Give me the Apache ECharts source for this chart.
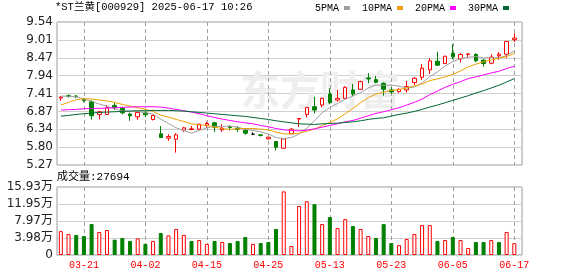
<!DOCTYPE html>
<html><head><meta charset="utf-8">
<script src="https://cdn.jsdelivr.net/npm/echarts/dist/echarts.min.js"></script>
<style>html,body{margin:0;padding:0;background:#fff}#c{width:578px;height:276px}</style>
</head><body><div id="c"></div>
<script>
const titleText = '*ST兰黄[000929] 2025-06-17 10:26';
const watermarkText = '东方财富';
const lastVolume = 27694;
const dates = ['03-18','03-19','03-20','03-21','03-24','03-25','03-26','03-27','03-28','03-31','04-01','04-02','04-03','04-07','04-08','04-09','04-10','04-11','04-14','04-15','04-16','04-17','04-18','04-21','04-22','04-23','04-24','04-25','04-28','04-29','04-30','05-06','05-07','05-08','05-09','05-13','05-14','05-15','05-16','05-19','05-20','05-21','05-22','05-23','05-26','05-27','05-28','05-29','05-30','06-03','06-04','06-05','06-06','06-09','06-10','06-11','06-12','06-13','06-16','06-17'];
const tickLabels = ['03-21','04-02','04-15','04-25','05-13','05-23','06-05','06-17'];
const priceTicks = ['5.27','5.80','6.34','6.87','7.41','7.94','8.47','9.01','9.54'];
const volTicks = ['0','3.98万','7.97万','11.95万','15.93万'];
const opens  = [7.27,7.34,7.33,7.24,7.16,6.78,6.78,7.05,6.96,6.79,6.71,6.83,6.63,6.20,6.07,6.04,6.31,6.33,6.34,6.46,6.53,6.32,6.42,6.37,6.31,6.19,6.17,6.05,5.97,5.77,6.20,6.64,6.78,7.01,7.06,7.39,7.21,7.26,7.51,7.53,7.87,7.82,7.71,7.51,7.46,7.51,7.73,7.89,8.11,8.37,8.30,8.61,8.44,8.57,8.57,8.40,8.31,8.53,8.58,9.01];
const closes = [7.30,7.32,7.31,7.20,6.74,6.86,6.98,6.98,6.83,6.74,6.84,6.77,6.75,6.09,6.12,6.17,6.38,6.35,6.49,6.51,6.40,6.37,6.39,6.34,6.22,6.19,6.15,6.10,5.80,6.05,6.34,6.66,6.99,6.91,7.26,7.13,7.26,7.59,7.39,7.76,7.84,7.74,7.53,7.45,7.53,7.61,7.86,8.16,8.38,8.25,8.52,8.50,8.57,8.59,8.38,8.30,8.49,8.58,8.96,9.06];
const highs  = [7.31,7.38,7.36,7.27,7.21,6.89,7.06,7.13,7.01,6.83,6.86,6.88,6.77,6.43,6.19,6.22,6.41,6.43,6.50,6.56,6.56,6.49,6.46,6.43,6.37,6.24,6.19,6.10,5.97,6.05,6.37,6.66,6.99,7.31,7.29,7.56,7.51,7.62,7.69,7.79,8.01,7.93,7.74,7.59,7.56,7.78,7.89,8.28,8.46,8.65,8.52,8.88,8.61,8.59,8.61,8.43,8.58,8.64,8.96,9.20];
const lows   = [7.19,7.28,7.27,7.14,6.63,6.63,6.78,6.91,6.78,6.59,6.62,6.70,6.60,6.08,5.99,5.64,6.26,6.31,6.31,6.38,6.26,6.26,6.30,6.26,6.17,6.16,6.12,6.03,5.70,5.75,6.20,6.41,6.69,6.81,6.99,7.08,7.16,7.26,7.33,7.51,7.71,7.71,7.34,7.40,7.43,7.43,7.66,7.81,7.99,8.23,8.30,8.43,8.33,8.49,8.34,8.21,8.28,8.41,8.47,8.94];
const ma5  = [7.33,7.32,7.31,7.24,7.17,7.09,7.02,6.95,6.88,6.88,6.87,6.83,6.79,6.64,6.51,6.38,6.30,6.22,6.30,6.38,6.43,6.42,6.43,6.40,6.34,6.30,6.26,6.20,6.09,6.06,6.09,6.19,6.37,6.59,6.83,6.99,7.11,7.23,7.33,7.43,7.57,7.66,7.65,7.66,7.62,7.57,7.60,7.72,7.91,8.05,8.23,8.36,8.44,8.49,8.51,8.47,8.47,8.47,8.54,8.68];
const ma10 = [7.06,7.14,7.22,7.25,7.24,7.21,7.18,7.14,7.08,7.03,6.98,6.93,6.87,6.76,6.70,6.63,6.57,6.50,6.47,6.45,6.40,6.36,6.33,6.35,6.36,6.36,6.34,6.32,6.25,6.20,6.20,6.22,6.28,6.34,6.45,6.54,6.65,6.80,6.96,7.13,7.28,7.39,7.44,7.50,7.52,7.57,7.63,7.69,7.79,7.84,7.90,7.98,8.08,8.20,8.28,8.35,8.41,8.46,8.51,8.60];
const ma20 = [6.91,6.92,6.93,6.95,6.96,6.96,6.97,6.98,6.99,7.00,7.01,7.01,7.01,7.00,6.97,6.93,6.89,6.85,6.80,6.74,6.69,6.64,6.60,6.56,6.53,6.50,6.45,6.41,6.36,6.32,6.30,6.29,6.31,6.35,6.40,6.45,6.50,6.56,6.60,6.67,6.74,6.81,6.86,6.92,6.98,7.06,7.14,7.24,7.37,7.48,7.59,7.68,7.76,7.85,7.90,7.96,8.02,8.07,8.15,8.22];
const ma30 = [6.73,6.75,6.78,6.80,6.82,6.84,6.85,6.86,6.87,6.88,6.89,6.89,6.90,6.90,6.90,6.89,6.88,6.86,6.84,6.82,6.80,6.78,6.76,6.74,6.72,6.69,6.66,6.63,6.59,6.56,6.53,6.50,6.49,6.48,6.50,6.51,6.52,6.54,6.56,6.59,6.63,6.66,6.68,6.73,6.78,6.82,6.87,6.93,7.00,7.06,7.13,7.20,7.27,7.34,7.42,7.49,7.57,7.65,7.75,7.85];
const volumes = [5.6,4.9,4.7,4.45,7.25,5.4,5.85,3.6,4.0,3.3,3.9,2.6,3.3,5.15,4.6,6.1,4.7,3.3,3.5,2.6,3.3,3.05,2.8,3.3,4.2,2.6,2.8,3.05,6.1,14.9,2.1,11.5,12.6,11.9,7.25,8.9,6.3,8.4,6.8,6.1,4.45,4.0,7.25,2.8,2.3,3.75,4.9,7.0,7.0,3.3,3.5,4.2,3.5,1.65,3.05,3.05,3.5,3.05,5.4,2.7694];
const volUp = [1,1,0,0,0,1,1,0,0,0,1,0,1,0,1,1,1,0,1,1,0,1,0,0,0,1,0,0,0,1,1,1,1,0,1,0,1,1,0,1,1,0,0,0,1,1,1,1,1,0,1,0,1,1,0,0,1,0,1,1];

const RED = '#ff0000', GREEN = '#008000';
const MONO = '"Liberation Mono", "Noto Sans CJK SC", monospace';
const SANS = '"DejaVu Sans", "Noto Sans CJK SC", sans-serif';
const showTick = (idx, val) => tickLabels.indexOf(val) >= 0;
const plotW = 465, bands = dates.length + 0.5;
const dataW = plotW * dates.length / bands;
const priceMin = parseFloat(priceTicks[0]), priceMax = parseFloat(priceTicks[priceTicks.length - 1]);
const volMax = parseFloat(volTicks[volTicks.length - 1]);

const kData = dates.map((d, i) => [opens[i], closes[i], lows[i], highs[i]]);
const vData = volumes.map((v, i) => ({
  value: v,
  itemStyle: volUp[i] ? {color: '#fff', borderColor: RED, borderWidth: 1} : {color: GREEN, borderColor: GREEN, borderWidth: 1}
}));

// dashed vertical guide at each labelled date, placed by the category axis
function guideSeries(xi, yi, yv) {
  return {
    type: 'custom', xAxisIndex: xi, yAxisIndex: yi,
    data: tickLabels.map(t => [t, yv]),
    encode: {x: 0, y: 1},
    renderItem: (params, api) => {
      const x = Math.round(api.coord([api.value(0), yv])[0]) + 0.5;
      const cs = params.coordSys;
      return {type: 'line', shape: {x1: x, y1: cs.y, x2: x, y2: cs.y + cs.height},
        style: {stroke: '#a0a0a0', lineWidth: 1, lineDash: [4, 3]}};
    }
  };
}

const chart = echarts.init(document.getElementById('c'));
chart.setOption({
  animation: false,
  title: [
    {text: titleText, left: 55, top: 2, padding: 0, textStyle: {fontFamily: MONO, fontSize: 10.5, fontWeight: 'normal', color: '#000'}},
    {text: '成交量:' + lastVolume, left: 57, top: 172, padding: 0, textStyle: {fontFamily: MONO, fontSize: 11, fontWeight: 'normal', color: '#000'}},
    {text: watermarkText, left: 240, top: 70, padding: 0, z: 0, textStyle: {fontFamily: '"Noto Sans CJK SC"', fontSize: 40, fontWeight: 'bold', color: '#eeeeee'}}
  ],
  legend: {
    top: 3, right: 69, padding: 0, align: 'right', icon: 'rect', itemWidth: 6, itemHeight: 4, itemGap: 12,
    textStyle: {fontFamily: MONO, fontSize: 10, color: '#000'},
    data: ['5PMA', '10PMA', '20PMA', '30PMA']
  },
  grid: [
    {left: 57, top: 22, width: plotW, height: 143, show: true, borderColor: '#9a9a9a', borderWidth: 1},
    {left: 57, top: 22, width: dataW, height: 143},
    {left: 57, top: 187, width: plotW, height: 68, show: true, borderColor: '#9a9a9a', borderWidth: 1},
    {left: 57, top: 187, width: dataW, height: 68}
  ],
  xAxis: [
    {type: 'value', gridIndex: 0, min: 0, max: 1, show: false},
    {type: 'category', gridIndex: 1, data: dates, boundaryGap: true, axisLine: {show: false}, axisTick: {show: false}, axisLabel: {show: false}, splitLine: {show: false}},
    {type: 'value', gridIndex: 2, min: 0, max: 1, show: false},
    {type: 'category', gridIndex: 3, data: dates, boundaryGap: true, axisLine: {show: false}, axisTick: {show: false},
      axisLabel: {interval: showTick, color: RED, fontFamily: MONO, fontSize: 10, margin: 5}, splitLine: {show: false}}
  ],
  yAxis: [
    {type: 'value', gridIndex: 0, min: 0, max: priceTicks.length - 1, interval: 1, axisLine: {show: false}, axisTick: {show: false},
      axisLabel: {formatter: v => priceTicks[Math.round(v)], color: '#222', fontFamily: SANS, fontSize: 12, margin: 4},
      splitLine: {lineStyle: {color: '#d0d0d0', width: 1}}},
    {type: 'value', gridIndex: 1, min: priceMin, max: priceMax, show: false, splitLine: {show: false}},
    {type: 'value', gridIndex: 2, min: 0, max: volTicks.length - 1, interval: 1, axisLine: {show: false}, axisTick: {show: false},
      axisLabel: {formatter: v => volTicks[Math.round(v)], color: '#222', fontFamily: SANS, fontSize: 12, margin: 4},
      splitLine: {lineStyle: {color: '#d0d0d0', width: 1}}},
    {type: 'value', gridIndex: 3, min: 0, max: volMax, show: false, splitLine: {show: false}}
  ],
  series: [
    guideSeries(1, 1, (priceMin + priceMax) / 2),
    guideSeries(3, 3, volMax / 2),
    {type: 'candlestick', xAxisIndex: 1, yAxisIndex: 1, data: kData, barWidth: 4,
      itemStyle: {color: '#fff', color0: GREEN, borderColor: RED, borderColor0: GREEN, borderColorDoji: '#000', borderWidth: 1}},
    {name: '5PMA', type: 'line', xAxisIndex: 1, yAxisIndex: 1, data: ma5, showSymbol: false, color: '#a0a0a0', lineStyle: {width: 1}},
    {name: '10PMA', type: 'line', xAxisIndex: 1, yAxisIndex: 1, data: ma10, showSymbol: false, color: '#f0a000', lineStyle: {width: 1}},
    {name: '20PMA', type: 'line', xAxisIndex: 1, yAxisIndex: 1, data: ma20, showSymbol: false, color: '#ff00ff', lineStyle: {width: 1}},
    {name: '30PMA', type: 'line', xAxisIndex: 1, yAxisIndex: 1, data: ma30, showSymbol: false, color: '#006633', lineStyle: {width: 1}},
    {type: 'bar', xAxisIndex: 3, yAxisIndex: 3, data: vData, barWidth: 4}
  ]
});
</script>
</body></html>
